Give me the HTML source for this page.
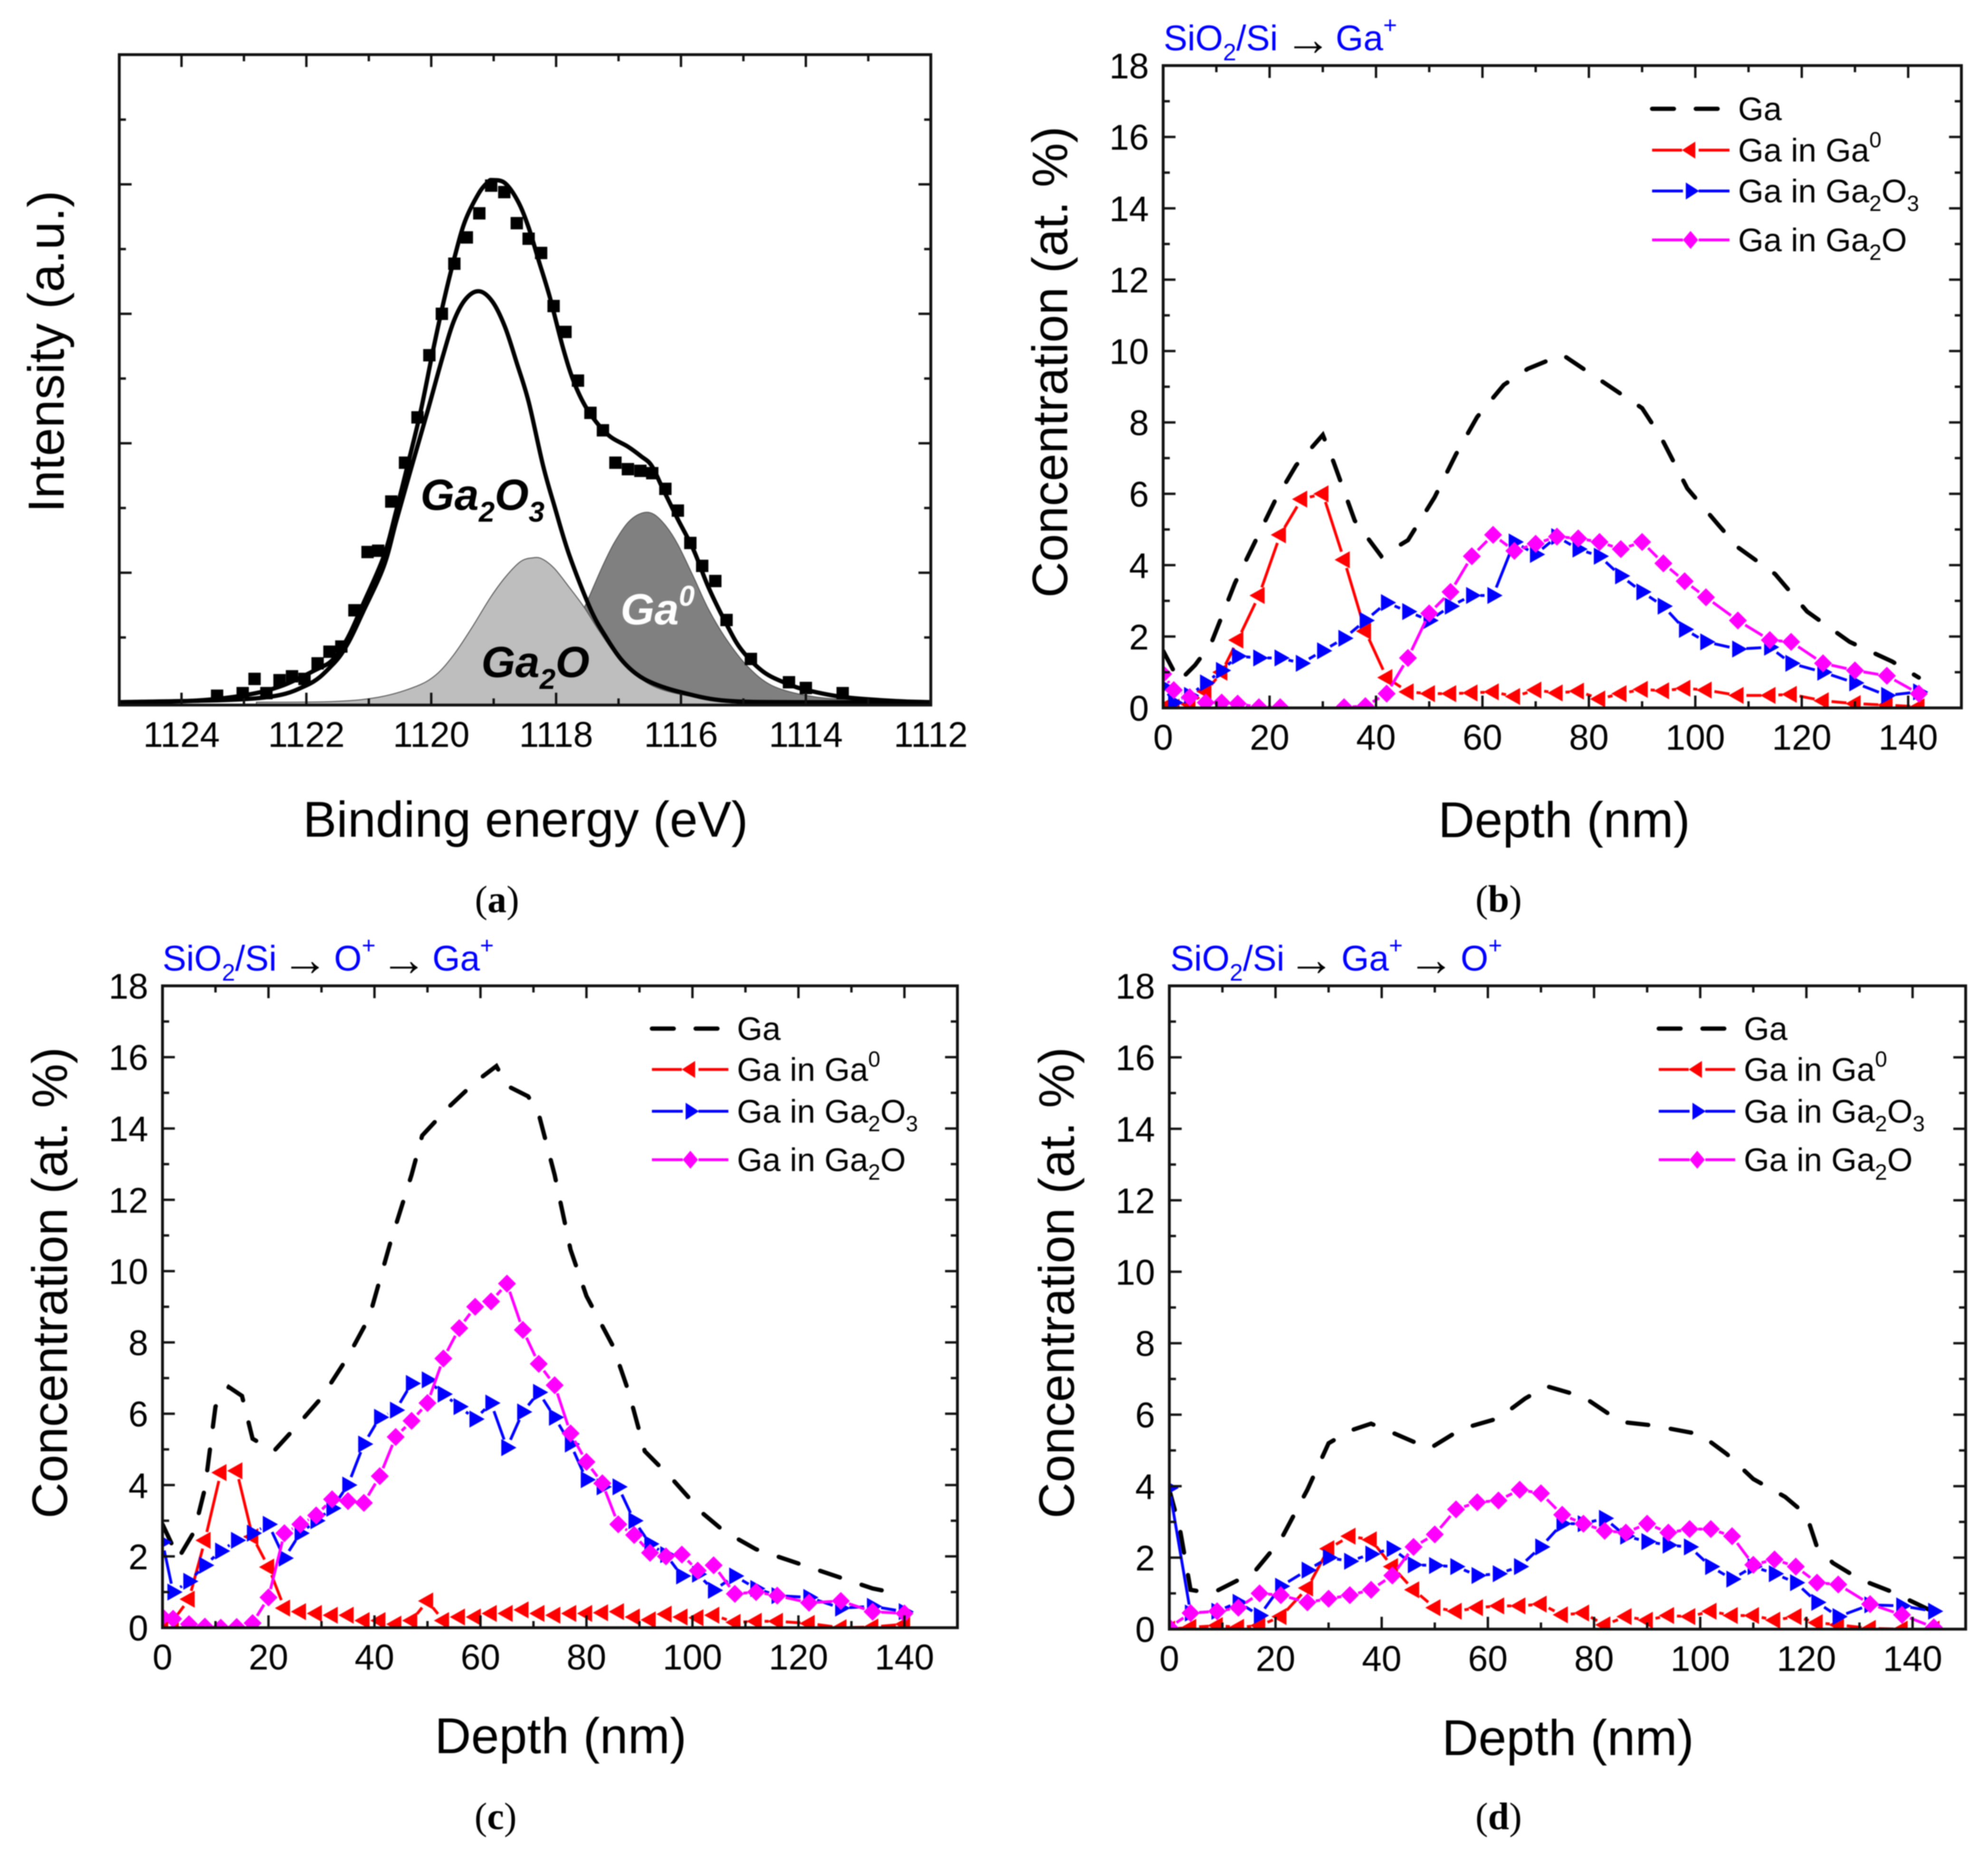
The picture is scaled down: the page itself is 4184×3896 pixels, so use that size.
<!DOCTYPE html>
<html lang="en">
<head>
<meta charset="utf-8">
<title>Ga depth profiles and XPS spectrum</title>
<style>
html,body{margin:0;padding:0;background:#fff;}
svg{display:block;filter:blur(1px);}
text{font-family:"Liberation Sans",Arial,sans-serif;fill:#000;}
.tick{font-size:75px;}
.axt{font-size:106px;}
.conc{font-size:105px;}
.int{font-size:107px;}
.leg{font-size:69px;}
.ttl{font-size:75px;fill:#0000ff;}
.ttl .ar{fill:#000;font-size:98px;}
.cap{font-family:"Liberation Serif",serif;font-size:80px;}
.cap .b{font-weight:bold;}
.pk{font-size:92px;font-weight:bold;font-style:italic;}
</style>
</head>
<body>
<svg id="fig" xmlns="http://www.w3.org/2000/svg" width="4184" height="3896" viewBox="0 0 4184 3896">
<rect width="4184" height="3896" fill="#fff"/>
<defs>
<clipPath id="clip-b"><rect x="2448" y="138" width="1680" height="1352"/></clipPath>
<clipPath id="clip-c"><rect x="342" y="2075" width="1673" height="1351"/></clipPath>
<clipPath id="clip-d"><rect x="2461" y="2075" width="1676" height="1354"/></clipPath>
</defs>

<g id="panel-a">
  <g id="marks-a"></g>
  <g id="axes-a"></g>
  <text class="pk" x="885" y="1073">Ga<tspan dy="25" font-size="60">2</tspan><tspan dy="-25">O</tspan><tspan dy="25" font-size="60">3</tspan></text>
  <text class="pk" x="1013" y="1425">Ga<tspan dy="25" font-size="60">2</tspan><tspan dy="-25">O</tspan></text>
  <text class="pk" x="1306" y="1314" style="fill:#fff">Ga<tspan dy="-39" font-size="60">0</tspan></text>
  <text class="axt" x="1106" y="1761" text-anchor="middle">Binding energy (eV)</text>
  <text class="axt int" transform="translate(134,740) rotate(-90)" text-anchor="middle">Intensity (a.u.)</text>
  <text class="cap" x="1046" y="1920" text-anchor="middle">(<tspan class="b">a</tspan>)</text>
</g>

<g id="panel-b">
  <text class="ttl" x="2449" y="106">SiO<tspan dy="21" font-size="50">2</tspan><tspan dy="-21">/Si</tspan><tspan class="ar" x="2704" dy="10">→</tspan><tspan x="2811" dy="-10">Ga</tspan><tspan dy="-36" font-size="50">+</tspan></text>
  <g id="marks-b" clip-path="url(#clip-b)"></g>
  <g id="axes-b"></g>
  <g>
    <g><line x1="3477" x2="3640" y1="229" y2="229" stroke="#000" stroke-width="9" stroke-linecap="round" stroke-dasharray="46 46"/><text class="leg" x="3658" y="253">Ga</text></g>
    <g><path d="M3477 316H3540M3575 316H3640" stroke="#f00" stroke-width="6" fill="none"/><polygon points="3540,316 3568,298 3568,334" fill="#f00"/><text class="leg" x="3658" y="340">Ga in Ga<tspan dy="-30" font-size="46">0</tspan></text></g>
    <g><path d="M3477 402H3542M3575 402H3640" stroke="#00f" stroke-width="6" fill="none"/><polygon points="3548,384 3576,402 3548,420" fill="#00f"/><text class="leg" x="3658" y="426">Ga in Ga<tspan dy="18" font-size="46">2</tspan><tspan dy="-18">O</tspan><tspan dy="18" font-size="46">3</tspan></text></g>
    <g><path d="M3477 505H3542M3575 505H3640" stroke="#f0f" stroke-width="6" fill="none"/><polygon points="3558,486 3574,505 3558,524 3542,505" fill="#f0f"/><text class="leg" x="3658" y="529">Ga in Ga<tspan dy="18" font-size="46">2</tspan><tspan dy="-18">O</tspan></text></g>
  </g>
  <text class="axt" x="3292" y="1762" text-anchor="middle">Depth (nm)</text>
  <text class="axt conc" transform="translate(2246,762) rotate(-90)" text-anchor="middle">Concentration (at. %)</text>
  <text class="cap" x="3154" y="1919" text-anchor="middle">(<tspan class="b">b</tspan>)</text>
</g>

<g id="panel-c">
  <text class="ttl" x="342" y="2043">SiO<tspan dy="21" font-size="50">2</tspan><tspan dy="-21">/Si</tspan><tspan class="ar" x="593" dy="10">→</tspan><tspan x="703" dy="-10">O</tspan><tspan dy="-36" font-size="50">+</tspan><tspan class="ar" x="801" dy="46">→</tspan><tspan x="910" dy="-10">Ga</tspan><tspan dy="-36" font-size="50">+</tspan></text>
  <g id="marks-c" clip-path="url(#clip-c)"></g>
  <g id="axes-c"></g>
  <g>
    <g><line x1="1372" x2="1533" y1="2165" y2="2165" stroke="#000" stroke-width="9" stroke-linecap="round" stroke-dasharray="46 46"/><text class="leg" x="1551" y="2189">Ga</text></g>
    <g><path d="M1372 2251H1435M1470 2251H1533" stroke="#f00" stroke-width="6" fill="none"/><polygon points="1435,2251 1463,2233 1463,2269" fill="#f00"/><text class="leg" x="1551" y="2275">Ga in Ga<tspan dy="-30" font-size="46">0</tspan></text></g>
    <g><path d="M1372 2339H1437M1470 2339H1533" stroke="#00f" stroke-width="6" fill="none"/><polygon points="1443,2321 1471,2339 1443,2357" fill="#00f"/><text class="leg" x="1551" y="2363">Ga in Ga<tspan dy="18" font-size="46">2</tspan><tspan dy="-18">O</tspan><tspan dy="18" font-size="46">3</tspan></text></g>
    <g><path d="M1372 2441H1437M1470 2441H1533" stroke="#f0f" stroke-width="6" fill="none"/><polygon points="1453,2422 1469,2441 1453,2460 1437,2441" fill="#f0f"/><text class="leg" x="1551" y="2465">Ga in Ga<tspan dy="18" font-size="46">2</tspan><tspan dy="-18">O</tspan></text></g>
  </g>
  <text class="axt" x="1180" y="3690" text-anchor="middle">Depth (nm)</text>
  <text class="axt conc" transform="translate(141,2700) rotate(-90)" text-anchor="middle">Concentration (at. %)</text>
  <text class="cap" x="1043" y="3850" text-anchor="middle">(<tspan class="b">c</tspan>)</text>
</g>

<g id="panel-d">
  <text class="ttl" x="2463" y="2043">SiO<tspan dy="21" font-size="50">2</tspan><tspan dy="-21">/Si</tspan><tspan class="ar" x="2711" dy="10">→</tspan><tspan x="2823" dy="-10">Ga</tspan><tspan dy="-36" font-size="50">+</tspan><tspan class="ar" x="2963" dy="46">→</tspan><tspan x="3074" dy="-10">O</tspan><tspan dy="-36" font-size="50">+</tspan></text>
  <g id="marks-d" clip-path="url(#clip-d)"></g>
  <g id="axes-d"></g>
  <g>
    <g><line x1="3491" x2="3652" y1="2165" y2="2165" stroke="#000" stroke-width="9" stroke-linecap="round" stroke-dasharray="46 46"/><text class="leg" x="3670" y="2189">Ga</text></g>
    <g><path d="M3491 2251H3554M3589 2251H3652" stroke="#f00" stroke-width="6" fill="none"/><polygon points="3554,2251 3582,2233 3582,2269" fill="#f00"/><text class="leg" x="3670" y="2275">Ga in Ga<tspan dy="-30" font-size="46">0</tspan></text></g>
    <g><path d="M3491 2339H3556M3589 2339H3652" stroke="#00f" stroke-width="6" fill="none"/><polygon points="3562,2321 3590,2339 3562,2357" fill="#00f"/><text class="leg" x="3670" y="2363">Ga in Ga<tspan dy="18" font-size="46">2</tspan><tspan dy="-18">O</tspan><tspan dy="18" font-size="46">3</tspan></text></g>
    <g><path d="M3491 2441H3556M3589 2441H3652" stroke="#f0f" stroke-width="6" fill="none"/><polygon points="3572,2422 3588,2441 3572,2460 3556,2441" fill="#f0f"/><text class="leg" x="3670" y="2465">Ga in Ga<tspan dy="18" font-size="46">2</tspan><tspan dy="-18">O</tspan></text></g>
  </g>
  <text class="axt" x="3300" y="3694" text-anchor="middle">Depth (nm)</text>
  <text class="axt conc" transform="translate(2260,2700) rotate(-90)" text-anchor="middle">Concentration (at. %)</text>
  <text class="cap" x="3154" y="3850" text-anchor="middle">(<tspan class="b">d</tspan>)</text>
</g>
</svg>

<script>
// ---------- Panel (a): XPS spectrum ----------
var aEnergyTicks = [1124,1122,1120,1118,1116,1114,1112];
var aScatterE = [1123.43,1123.02,1122.83,1122.64,1122.43,1122.23,1122.03,1121.82,1121.63,1121.44,1121.23,1121.02,1120.85,1120.64,1120.42,1120.22,1120.03,1119.83,1119.63,1119.43,1119.23,1119.04,1118.83,1118.63,1118.44,1118.24,1118.04,1117.85,1117.65,1117.45,1117.25,1117.05,1116.85,1116.65,1116.46,1116.25,1116.05,1115.85,1115.66,1115.45,1115.27,1114.88,1114.27,1114.0,1113.41];
var aScatterI = [.05,.07,.18,.07,.17,.20,.18,.30,.39,.43,.71,1.16,1.17,1.55,1.85,2.2,2.68,3.0,3.387,3.59,3.776,3.99,3.94,3.70,3.58,3.47,3.06,2.86,2.484,2.235,2.1,1.85,1.80,1.787,1.769,1.648,1.48,1.23,1.053,.936,.635,.334,.154,.11,.07];
var aFitE = [1125,1123.86,1123.04,1122.43,1121.85,1121.58,1121.34,1121.09,1120.76,1120.56,1120.38,1120.17,1119.97,1119.8,1119.63,1119.46,1119.24,1119.09,1119.02,1118.82,1118.61,1118.44,1118.28,1118.1,1117.88,1117.7,1117.48,1117.17,1116.85,1116.64,1116.47,1116.29,1116.05,1115.8,1115.56,1115.27,1115.03,1114.68,1114.3,1113.97,1113.4,1112.6,1112];
var aFitI = [0,.01,.05,.12,.25,.327,.495,.76,1.127,1.48,1.827,2.246,2.72,3.097,3.43,3.714,3.93,4.018,4.033,4.01,3.868,3.666,3.413,3.127,2.72,2.455,2.246,2.066,1.974,1.9,1.827,1.648,1.413,1.178,.888,.602,.404,.235,.143,.092,.04,.01,0];
var aGa2O3E = [1125,1122.8,1122,1121.58,1121.34,1121.09,1120.76,1120.56,1120.31,1120.06,1119.81,1119.63,1119.44,1119.23,1119.02,1118.82,1118.63,1118.44,1118.21,1118.03,1117.79,1117.45,1117.21,1116.97,1116.72,1116.43,1116,1115.27,1114,1112];
var aGa2O3I = [0,.03,.13,.29,.45,.7,1.05,1.4,1.827,2.246,2.68,2.954,3.119,3.174,3.094,2.9,2.62,2.32,1.83,1.52,1.138,.72,.51,.338,.22,.143,.077,.011,0,0];
var aGa2OE = [1122.8,1121.58,1120.85,1120.27,1119.93,1119.64,1119.35,1119.05,1118.81,1118.57,1118.38,1118.23,1118.03,1117.79,1117.55,1117.31,1117.02,1116.72,1116.34,1115.75,1115.03];
var aGa2OI = [0,.005,.038,.117,.209,.366,.575,.81,.968,1.086,1.115,1.108,1.034,.888,.733,.55,.352,.209,.103,.038,0];
var aGa0E = [1119.2,1118.6,1118.1,1117.8,1117.55,1117.45,1117.26,1117.07,1116.85,1116.63,1116.44,1116.24,1116.05,1115.8,1115.56,1115.27,1114.93,1114.54,1113.97,1113.3,1112];
var aGa0I = [0,.05,.25,.5,.73,.837,1.046,1.23,1.387,1.46,1.453,1.36,1.218,.968,.719,.484,.275,.128,.05,.02,0];

// ---------- Depth panels shared ticks ----------
var depthTicks = [0,20,40,60,80,100,120,140];
var concTicks = [0,2,4,6,8,10,12,14,16,18];

// ---------- Panel (b) ----------
var bDepth = [0,2,5,8,11,14,18,22,26,30,34,38,42,46,50,54,58,62,66,70,74,78,82,86,90,94,98,102,108,114,118,124,130,136,142];
var bGa0 = [0,.02,.1,.46,1,1.9,3.15,4.85,5.85,6,4.15,2.15,.85,.45,.4,.4,.42,.45,.32,.5,.42,.47,.25,.4,.52,.48,.55,.5,.35,.35,.38,.2,.12,.08,.03];
var bGa2O3 = [.6,.15,.35,.7,1.05,1.45,1.4,1.4,1.25,1.6,1.95,2.45,2.95,2.7,2.45,2.85,3.15,3.15,4.65,4.3,4.8,4.45,4.25,3.7,3.25,2.85,2.2,1.85,1.65,1.7,1.25,1,.7,.35,.45];
var bGa2O = [.95,.5,.3,.15,.15,.12,.02,.02,null,null,.02,.05,.4,1.4,2.65,3.25,4.25,4.85,4.4,4.6,4.8,4.75,4.65,4.45,4.65,4.05,3.55,3.1,2.45,1.9,1.85,1.25,1.05,.9,.4];
var bTotalX = [0,3,6,9,13.5,21,25,30,32,36,41,46,51,55,59,64,68.5,75,81,90,93.5,98.5,104.5,108,115,121,129,137,142];
var bTotalY = [1.6,.75,1.2,1.8,3.5,5.8,6.8,7.65,6.9,5.25,4.25,4.7,5.9,7.1,8.15,9.05,9.5,9.9,9.3,8.4,7.6,6.15,5.1,4.5,3.75,2.7,1.85,1.3,.85];

// ---------- Panel (c) ----------
var cDepth = [0,2,5,8,11,14,17,20,23,26,29,32,35,38,41,44,47,50,53,56,59,62,65,68,71,74,77,80,83,86,89,92,95,98,101,104,108,112,116,122,128,134,140];
var cGa0 = [.05,.2,.8,2.45,4.35,4.4,2.55,1.7,.55,.45,.4,.35,.35,.2,.2,.1,.2,.75,.2,.3,.3,.4,.4,.5,.4,.35,.4,.4,.42,.45,.3,.22,.38,.3,.28,.35,.15,.18,.18,.12,0,.02,.1];
var cGa2O3 = [2.4,1,1.3,1.75,2.15,2.45,2.65,2.9,1.95,2.65,3,3.35,4,5.15,5.9,6.1,6.85,6.95,6.55,6.2,5.85,6.3,5.05,6.05,6.6,5.9,5.15,4.15,3.95,3.95,3,2.35,2.05,1.45,1.5,1.05,1.45,1.1,.9,.85,.55,.6,.45];
var cGa2O = [.3,.25,.1,.03,0,.02,.13,.85,2.65,2.9,3.15,3.6,3.55,3.5,4.25,5.35,5.8,6.3,7.55,8.4,9,9.15,9.65,8.35,7.4,6.8,5.45,4.65,4.05,2.9,2.6,2.1,2,2.05,1.6,1.75,.95,1,.9,.7,.75,.45,.4];
var cTotalX = [0,3,6,8,10,12.5,15,17,21,25,30,35,39,43,47,49,54,59,63,65,69,71,74,77,80,85,88,91,96,102,106,112,120,128,134,139];
var cTotalY = [2.9,1.95,2.7,3.9,6.2,6.75,6.5,5.3,4.95,5.6,6.45,7.6,8.7,10.8,12.7,13.8,14.6,15.3,15.75,15.2,14.9,14.4,12.7,10.6,9.3,7.9,6.6,4.95,4.2,3.2,2.7,2.2,1.8,1.4,1.1,.95];

// ---------- Panel (d) ----------
var dDepth = [0,4,9,13,17,21,26,30,34,38,42,46,50,54,58,62,66,70,74,78,82,86,90,94,98,102,106,110,114,118,122,126,132,138,144];
var dGa0 = [0,.05,.1,.05,.1,.35,1.15,2.25,2.6,2.5,1.75,1.1,.6,.5,.6,.65,.65,.7,.4,.45,.12,.35,.25,.38,.35,.5,.38,.38,.25,.35,.18,.12,.02,0,0];
var dGa2O3 = [3.95,.45,.5,.75,.38,1.2,1.65,2,1.9,2.1,2.25,1.8,1.78,1.75,1.5,1.55,1.75,2.3,2.95,2.95,3.1,2.6,2.45,2.35,2.3,1.75,1.4,1.75,1.55,1.3,.75,.35,.68,.65,.5];
var dGa2O = [.05,.45,.5,.6,1,.95,.75,.85,.95,1.1,1.5,2.3,2.65,3.35,3.55,3.6,3.9,3.8,3.2,2.95,2.75,2.7,2.95,2.7,2.8,2.8,2.6,1.8,1.95,1.75,1.3,1.25,.7,.4,.05];
var dTotalX = [0,2,4,8,12,16,21,26,30,34,38,42,49,55,62,67,71,78,85,91,100,105,110,116,120,122,125,130,136,143];
var dTotalY = [3.9,2.8,1.1,1,1.3,1.6,2.5,3.9,5.2,5.55,5.75,5.5,5.05,5.6,5.9,6.45,6.8,6.5,5.8,5.7,5.45,4.9,4.2,3.7,3.2,2.3,1.85,1.4,1.05,.55];

var NS = 'http://www.w3.org/2000/svg';

function svgEl(tag, parent) {
  var el = document.createElementNS(NS, tag);
  parent.appendChild(el);
  return el;
}

function tickLine(parent, x1, y1, x2, y2, name) {
  var el = svgEl('line', parent);
  el.setAttribute('x1', x1);
  el.setAttribute('y1', y1);
  el.setAttribute('x2', x2);
  el.setAttribute('y2', y2);
  el.setAttribute('stroke', '#111');
  el.setAttribute('stroke-width', 5);
  
  
}

function tickText(parent, x, y, anchor, str, name) {
  var el = svgEl('text', parent);
  el.setAttribute('class', 'tick');
  el.setAttribute('x', x);
  el.setAttribute('y', y);
  el.setAttribute('text-anchor', anchor);
  el.textContent = str;
  
  
}

function frameRect(parent, L, T, R, B) {
  var el = svgEl('rect', parent);
  el.setAttribute('x', L);
  el.setAttribute('y', T);
  el.setAttribute('width', R - L);
  el.setAttribute('height', B - T);
  el.setAttribute('fill', 'none');
  el.setAttribute('stroke', '#111');
  el.setAttribute('stroke-width', 6);
  
  
}

// Origin-style solid line with a gap around each symbol
function gapLine(parent, xs, ys, sx, sy, color, name) {
  var gap = 18;
  for (var i = 0; i < xs.length - 1; i++) {
    if (ys[i] === null || ys[i + 1] === null) continue;
    var x1 = sx(xs[i]), y1 = sy(ys[i]), x2 = sx(xs[i + 1]), y2 = sy(ys[i + 1]);
    var dx = x2 - x1, dy = y2 - y1, len = Math.sqrt(dx * dx + dy * dy);
    if (len <= 2 * gap) continue;
    var ux = dx / len, uy = dy / len;
    var el = svgEl('line', parent);
    el.setAttribute('x1', x1 + ux * gap);
    el.setAttribute('y1', y1 + uy * gap);
    el.setAttribute('x2', x2 - ux * gap);
    el.setAttribute('y2', y2 - uy * gap);
    el.setAttribute('stroke', color);
    el.setAttribute('stroke-width', 6);
    
    
  }
}

function markers(parent, xs, ys, sx, sy, color, shape, name) {
  for (var i = 0; i < xs.length; i++) {
    if (ys[i] === null) continue;
    var x = sx(xs[i]), y = sy(ys[i]), p;
    if (shape === 'left') p = [x - 20, y, x + 12, y - 18, x + 12, y + 18];
    else if (shape === 'right') p = [x + 20, y, x - 12, y - 18, x - 12, y + 18];
    else p = [x, y - 19, x + 19, y, x, y + 19, x - 19, y];
    var el = svgEl('polygon', parent);
    el.setAttribute('points', p.join(','));
    el.setAttribute('fill', color);
    
    
  }
}

function polyPoints(xs, ys, sx, sy) {
  var out = [];
  for (var i = 0; i < xs.length; i++) out.push(sx(xs[i]).toFixed(1) + ',' + sy(ys[i]).toFixed(1));
  return out.join(' ');
}

function drawDepthPanel(id, L, T, R, B, depth, ga0, ga2o3, ga2o, totalX, totalY) {
  var sx = function (v) { return L + v * (R - L) / 150; };
  var sy = function (v) { return B - v * (B - T) / 18; };
  var m = document.getElementById('marks-' + id);
  var a = document.getElementById('axes-' + id);

  var tot = svgEl('polyline', m);
  tot.setAttribute('points', polyPoints(totalX, totalY, sx, sy));
  tot.setAttribute('fill', 'none');
  tot.setAttribute('stroke', '#000');
  tot.setAttribute('stroke-width', 9);
  tot.setAttribute('stroke-linecap', 'round');
  tot.setAttribute('stroke-dasharray', '44 48');
  
  

  gapLine(m, depth, ga0, sx, sy, '#ff0000', 'ga0');
  markers(m, depth, ga0, sx, sy, '#ff0000', 'left', 'ga0');
  gapLine(m, depth, ga2o3, sx, sy, '#0000ff', 'ga2o3');
  markers(m, depth, ga2o3, sx, sy, '#0000ff', 'right', 'ga2o3');
  gapLine(m, depth, ga2o, sx, sy, '#ff00ff', 'ga2o');
  markers(m, depth, ga2o, sx, sy, '#ff00ff', 'diamond', 'ga2o');

  depthTicks.forEach(function (v) {
    tickLine(a, sx(v), B, sx(v), B - 26, 'x-major-tick');
    tickLine(a, sx(v), T, sx(v), T + 26, 'x-major-tick-top');
    tickText(a, sx(v), B + 88, 'middle', String(v), 'x-tick-label');
    tickLine(a, sx(v + 10), B, sx(v + 10), B - 14, 'x-minor-tick');
    tickLine(a, sx(v + 10), T, sx(v + 10), T + 14, 'x-minor-tick-top');
  });
  concTicks.forEach(function (v) {
    tickLine(a, L, sy(v), L + 26, sy(v), 'y-major-tick');
    tickLine(a, R, sy(v), R - 26, sy(v), 'y-major-tick-right');
    tickText(a, L - 30, sy(v) + 27, 'end', String(v), 'y-tick-label');
    if (v < 18) {
      tickLine(a, L, sy(v + 1), L + 14, sy(v + 1), 'y-minor-tick');
      tickLine(a, R, sy(v + 1), R - 14, sy(v + 1), 'y-minor-tick-right');
    }
  });
  frameRect(a, L, T, R, B);
}

// Catmull-Rom smoothed path through read-off points
function smoothPath(xs, ys, sx, sy) {
  var p = [];
  for (var i = 0; i < xs.length; i++) p.push([sx(xs[i]), sy(ys[i])]);
  var d = 'M' + p[0][0].toFixed(1) + ' ' + p[0][1].toFixed(1);
  for (var j = 0; j < p.length - 1; j++) {
    var p0 = p[Math.max(j - 1, 0)], p1 = p[j], p2 = p[j + 1], p3 = p[Math.min(j + 2, p.length - 1)];
    var c1x = p1[0] + (p2[0] - p0[0]) / 6, c1y = p1[1] + (p2[1] - p0[1]) / 6;
    var c2x = p2[0] - (p3[0] - p1[0]) / 6, c2y = p2[1] - (p3[1] - p1[1]) / 6;
    d += 'C' + c1x.toFixed(1) + ' ' + c1y.toFixed(1) + ' ' + c2x.toFixed(1) + ' ' + c2y.toFixed(1) + ' ' + p2[0].toFixed(1) + ' ' + p2[1].toFixed(1);
  }
  return d;
}

function closeToBase(xs, sx, base) {
  return 'L' + sx(xs[xs.length - 1]).toFixed(1) + ' ' + base + 'L' + sx(xs[0]).toFixed(1) + ' ' + base + 'Z';
}

function drawXpsPanel() {
  var L = 251, R = 1959, T = 115, B = 1484;
  var sx = function (e) { return 382 + (1124 - e) * 131.4; };
  var sy = function (v) { return 1478 - v * 272.5; };
  var m = document.getElementById('marks-a');
  var a = document.getElementById('axes-a');

  var f0 = svgEl('path', m);
  f0.setAttribute('d', smoothPath(aGa0E, aGa0I, sx, sy) + closeToBase(aGa0E, sx, B));
  f0.setAttribute('fill', '#808080');
  f0.setAttribute('stroke', '#555');
  f0.setAttribute('stroke-width', 2);
  
  

  var f1 = svgEl('path', m);
  f1.setAttribute('d', smoothPath(aGa2OE, aGa2OI, sx, sy) + closeToBase(aGa2OE, sx, B));
  f1.setAttribute('fill', '#bebebe');
  f1.setAttribute('stroke', '#555');
  f1.setAttribute('stroke-width', 2);
  
  

  var l1 = svgEl('path', m);
  l1.setAttribute('d', smoothPath(aGa2O3E, aGa2O3I, sx, sy));
  l1.setAttribute('fill', 'none');
  l1.setAttribute('stroke', '#000');
  l1.setAttribute('stroke-width', 9);
  
  

  var l2 = svgEl('path', m);
  l2.setAttribute('d', smoothPath(aFitE, aFitI, sx, sy));
  l2.setAttribute('fill', 'none');
  l2.setAttribute('stroke', '#000');
  l2.setAttribute('stroke-width', 9);
  
  

  for (var i = 0; i < aScatterE.length; i++) {
    var s = svgEl('rect', m);
    s.setAttribute('x', sx(aScatterE[i]) - 13);
    s.setAttribute('y', sy(aScatterI[i]) - 13);
    s.setAttribute('width', 26);
    s.setAttribute('height', 26);
    s.setAttribute('fill', '#000');
    
    
  }

  aEnergyTicks.forEach(function (e) {
    tickLine(a, sx(e), B, sx(e), B - 26, 'x-major-tick');
    tickLine(a, sx(e), T, sx(e), T + 26, 'x-major-tick-top');
    tickText(a, sx(e), B + 88, 'middle', String(e), 'x-tick-label');
    if (e > 1112) {
      tickLine(a, sx(e - 1), B, sx(e - 1), B - 14, 'x-minor-tick');
      tickLine(a, sx(e - 1), T, sx(e - 1), T + 14, 'x-minor-tick-top');
    }
  });
  for (var k = 1; k <= 9; k++) {
    var yy = sy(k / 2), len = k % 2 === 0 ? 26 : 14;
    tickLine(a, L, yy, L + len, yy, 'y-tick');
    tickLine(a, R, yy, R - len, yy, 'y-tick-right');
  }
  frameRect(a, L, T, R, B);
}

drawXpsPanel();
drawDepthPanel('b', 2448, 138, 4128, 1490, bDepth, bGa0, bGa2O3, bGa2O, bTotalX, bTotalY);
drawDepthPanel('c', 342, 2075, 2015, 3426, cDepth, cGa0, cGa2O3, cGa2O, cTotalX, cTotalY);
drawDepthPanel('d', 2461, 2075, 4137, 3429, dDepth, dGa0, dGa2O3, dGa2O, dTotalX, dTotalY);
</script>
</body>
</html>
